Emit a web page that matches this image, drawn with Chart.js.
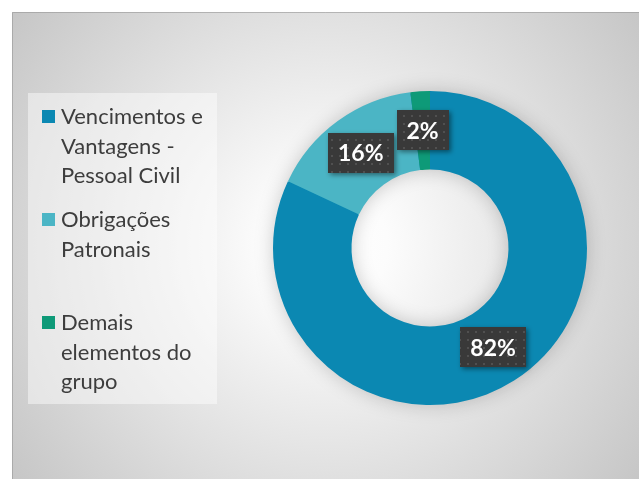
<!DOCTYPE html>
<html>
<head>
<meta charset="utf-8">
<script src="https://cdn.jsdelivr.net/npm/chart.js@4/dist/chart.umd.min.js"></script>
<style>
  html, body { margin: 0; padding: 0; background: #ffffff; }
  #wrap { width: 639px; height: 479px; }
</style>
</head>
<body>
<div id="wrap"><canvas id="c" width="639" height="479"></canvas></div>
<script>
// Composição da despesa do grupo (percentual)
const categories = [
  'Vencimentos e Vantagens - Pessoal Civil',
  'Obrigações Patronais',
  'Demais elementos do grupo'
];
const values = [82, 16, 2];
const colors = ['#0B88B2', '#4BB5C5', '#0E9A78'];

const FONT = 'Lato, "Open Sans", sans-serif';

// Panel background: radial light-gray gradient with a thin frame
const backgroundPlugin = {
  id: 'panelBackground',
  beforeDraw(chart) {
    const ctx = chart.ctx;
    ctx.save();
    ctx.fillStyle = '#ffffff';
    ctx.fillRect(0, 0, chart.width, chart.height);
    const x0 = 12, y0 = 12, w = chart.width - x0, h = chart.height - y0;
    const g = ctx.createRadialGradient(326, 245, 0, 326, 245, 410);
    g.addColorStop(0, '#ffffff');
    g.addColorStop(0.15, '#fcfcfc');
    g.addColorStop(1, '#c3c3c3');
    ctx.fillStyle = g;
    ctx.fillRect(x0, y0, w, h);
    ctx.strokeStyle = 'rgba(150,150,150,0.6)';
    ctx.lineWidth = 1;
    ctx.beginPath();
    ctx.moveTo(x0 + 0.5, chart.height);
    ctx.lineTo(x0 + 0.5, y0 + 0.5);
    ctx.lineTo(chart.width, y0 + 0.5);
    ctx.stroke();
    ctx.restore();
  },
  // soft shadow ring behind the doughnut
  beforeDatasetsDraw(chart) {
    const meta = chart.getDatasetMeta(0);
    const arc = meta.data[0];
    if (!arc) return;
    const { x, y, innerRadius, outerRadius } = arc.getProps(['x', 'y', 'innerRadius', 'outerRadius'], true);
    const ctx = chart.ctx;
    ctx.save();
    ctx.shadowColor = 'rgba(0,0,0,0.22)';
    ctx.shadowBlur = 20;
    ctx.fillStyle = colors[0];
    ctx.beginPath();
    ctx.arc(x, y, outerRadius - 1, 0, Math.PI * 2);
    ctx.arc(x, y, innerRadius + 1, 0, Math.PI * 2, true);
    ctx.fill();
    ctx.restore();
  }
};

// Left legend with wrapped labels on a translucent panel
const legendPlugin = {
  id: 'sideLegend',
  afterDraw(chart) {
    const ctx = chart.ctx;
    ctx.save();
    ctx.fillStyle = 'rgba(255,255,255,0.45)';
    ctx.fillRect(28, 93, 189, 311);
    ctx.font = '22px ' + FONT;
    ctx.textBaseline = 'alphabetic';
    ctx.textAlign = 'left';
    const maxW = 155, lineH = 29.5, textX = 61;
    const labels = chart.data.labels;
    labels.forEach((label, i) => {
      const words = label.split(' ');
      const lines = [];
      let cur = '';
      words.forEach(wd => {
        const test = cur ? cur + ' ' + wd : wd;
        if (ctx.measureText(test).width > maxW && cur) { lines.push(cur); cur = wd; }
        else cur = test;
      });
      if (cur) lines.push(cur);
      const base = 124 + i * 103;
      ctx.fillStyle = chart.data.datasets[0].backgroundColor[i];
      ctx.fillRect(42, base - 14, 13, 13);
      ctx.fillStyle = '#3d3d3d';
      lines.forEach((ln, k) => ctx.fillText(ln, textX, base + k * lineH));
    });
    ctx.restore();
  }
};

// Dark dotted callout boxes with the percentage of each slice
function makeDotPattern(ctx) {
  const p = document.createElement('canvas');
  p.width = 8; p.height = 8;
  const pc = p.getContext('2d');
  pc.fillStyle = '#393939';
  pc.fillRect(0, 0, 8, 8);
  pc.fillStyle = '#505050';
  pc.fillRect(3, 3, 2, 2);
  return ctx.createPattern(p, 'repeat');
}

const labelPlugin = {
  id: 'percentLabels',
  afterDatasetsDraw(chart) {
    const ctx = chart.ctx;
    const meta = chart.getDatasetMeta(0);
    const data = chart.data.datasets[0].data;
    const total = data.reduce((a, b) => a + b, 0);
    const pattern = makeDotPattern(ctx);
    ctx.save();
    ctx.font = 'bold 23px ' + FONT;
    ctx.textAlign = 'center';
    ctx.textBaseline = 'middle';
    meta.data.forEach((arc, i) => {
      const pos = arc.tooltipPosition();
      const txt = Math.round(data[i] / total * 100) + '%';
      const tw = ctx.measureText(txt).width;
      const bw = Math.round(tw + 20), bh = 40;
      const bx = Math.round(pos.x - bw / 2), by = Math.round(pos.y - bh / 2);
      ctx.save();
      ctx.shadowColor = 'rgba(0,0,0,0.45)';
      ctx.shadowBlur = 5;
      ctx.shadowOffsetX = 2;
      ctx.shadowOffsetY = 2;
      ctx.fillStyle = pattern;
      ctx.fillRect(bx, by, bw, bh);
      ctx.restore();
      ctx.fillStyle = '#ffffff';
      ctx.fillText(txt, pos.x, pos.y + 1);
    });
    ctx.restore();
  }
};

new Chart(document.getElementById('c'), {
  type: 'doughnut',
  data: {
    labels: categories,
    datasets: [{
      data: values,
      backgroundColor: colors,
      borderWidth: 0,
      hoverOffset: 0
    }]
  },
  options: {
    responsive: false,
    devicePixelRatio: 1,
    animation: false,
    cutout: '50%',
    layout: { padding: { left: 272, right: 51, top: 91, bottom: 74 } },
    plugins: {
      legend: { display: false },
      tooltip: { enabled: false }
    }
  },
  plugins: [backgroundPlugin, labelPlugin, legendPlugin]
});
</script>
</body>
</html>
